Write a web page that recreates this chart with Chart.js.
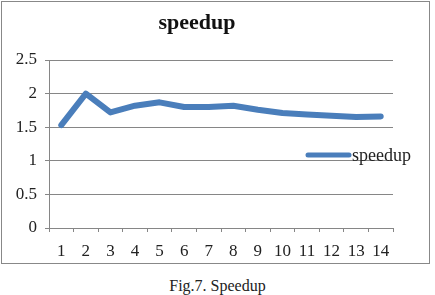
<!DOCTYPE html>
<html>
<head>
<meta charset="utf-8">
<script src="https://cdn.jsdelivr.net/npm/chart.js@4"></script>
<style>
body { margin: 0; background: #fff; width: 435px; height: 295px; position: relative; overflow: hidden; }
#box { position: absolute; left: 1px; top: 1px; width: 427px; height: 261px; border: 1px solid #888; }
#wrap { position: absolute; left: 0; top: 0; width: 427px; height: 261px; }
#cap { position: absolute; left: 0; width: 435px; top: 277px; text-align: center; font: 16px "Liberation Serif", serif; color: #222; }
</style>
</head>
<body>
<div id="box"><div id="wrap"><canvas id="speedupChart"></canvas></div></div>
<div id="cap">Fig.7. Speedup</div>
<script>
const labels = ['1','2','3','4','5','6','7','8','9','10','11','12','13','14'];
const speedup = [1.53, 2.0, 1.72, 1.82, 1.87, 1.80, 1.80, 1.82, 1.76, 1.71, 1.69, 1.67, 1.65, 1.66];
const lineColor = '#4a7ebb';
const fontName = '"Liberation Serif", serif';

// title and legend drawn by hand, Excel style
const decor = {
    id: 'decor',
    afterDraw(chart) {
        const ctx = chart.ctx;
        ctx.save();
        ctx.fillStyle = '#111';
        ctx.font = 'bold 22px ' + fontName;
        ctx.textAlign = 'center';
        ctx.textBaseline = 'middle';
        ctx.fillText('speedup', 195, 21);

        ctx.strokeStyle = lineColor;
        ctx.lineWidth = 5;
        ctx.lineCap = 'round';
        ctx.beginPath();
        ctx.moveTo(306, 153);
        ctx.lineTo(347, 153);
        ctx.stroke();
        ctx.fillStyle = '#222';
        ctx.font = '18px ' + fontName;
        ctx.textAlign = 'left';
        ctx.fillText('speedup', 350, 154);
        ctx.restore();
    }
};

const config = {
    type: 'line',
    data: {
        labels: labels,
        datasets: [{
            label: 'speedup',
            data: speedup,
            borderColor: lineColor,
            borderWidth: 6,
            borderJoinStyle: 'round',
            borderCapStyle: 'round',
            pointRadius: 0,
            tension: 0,
            fill: false
        }]
    },
    options: {
        responsive: true,
        maintainAspectRatio: false,
        animation: false,
        layout: { padding: { left: 0, right: 36, top: 58, bottom: 0 } },
        plugins: {
            legend: { display: false },
            title: { display: false },
            tooltip: { enabled: false }
        },
        scales: {
            x: {
                offset: true,
                grid: { offset: true, drawOnChartArea: false, drawTicks: true, tickLength: 4, color: '#868686' },
                border: { color: '#868686' },
                ticks: { color: '#222', font: { family: fontName, size: 17 }, padding: 9, maxRotation: 0, autoSkip: false },
                afterFit(scale) { scale.height = 35; }
            },
            y: {
                min: 0,
                max: 2.5,
                ticks: {
                    stepSize: 0.5, color: '#222', font: { family: fontName, size: 17 }, padding: 8,
                    callback: function (value) { return String(value); }
                },
                grid: { color: '#868686', tickLength: 4 },
                border: { color: '#868686' },
                afterFit(scale) { scale.width = 47; }
            }
        }
    },
    plugins: [decor]
};

const chart1 = new Chart(document.getElementById('speedupChart'), config);
</script>
</body>
</html>
